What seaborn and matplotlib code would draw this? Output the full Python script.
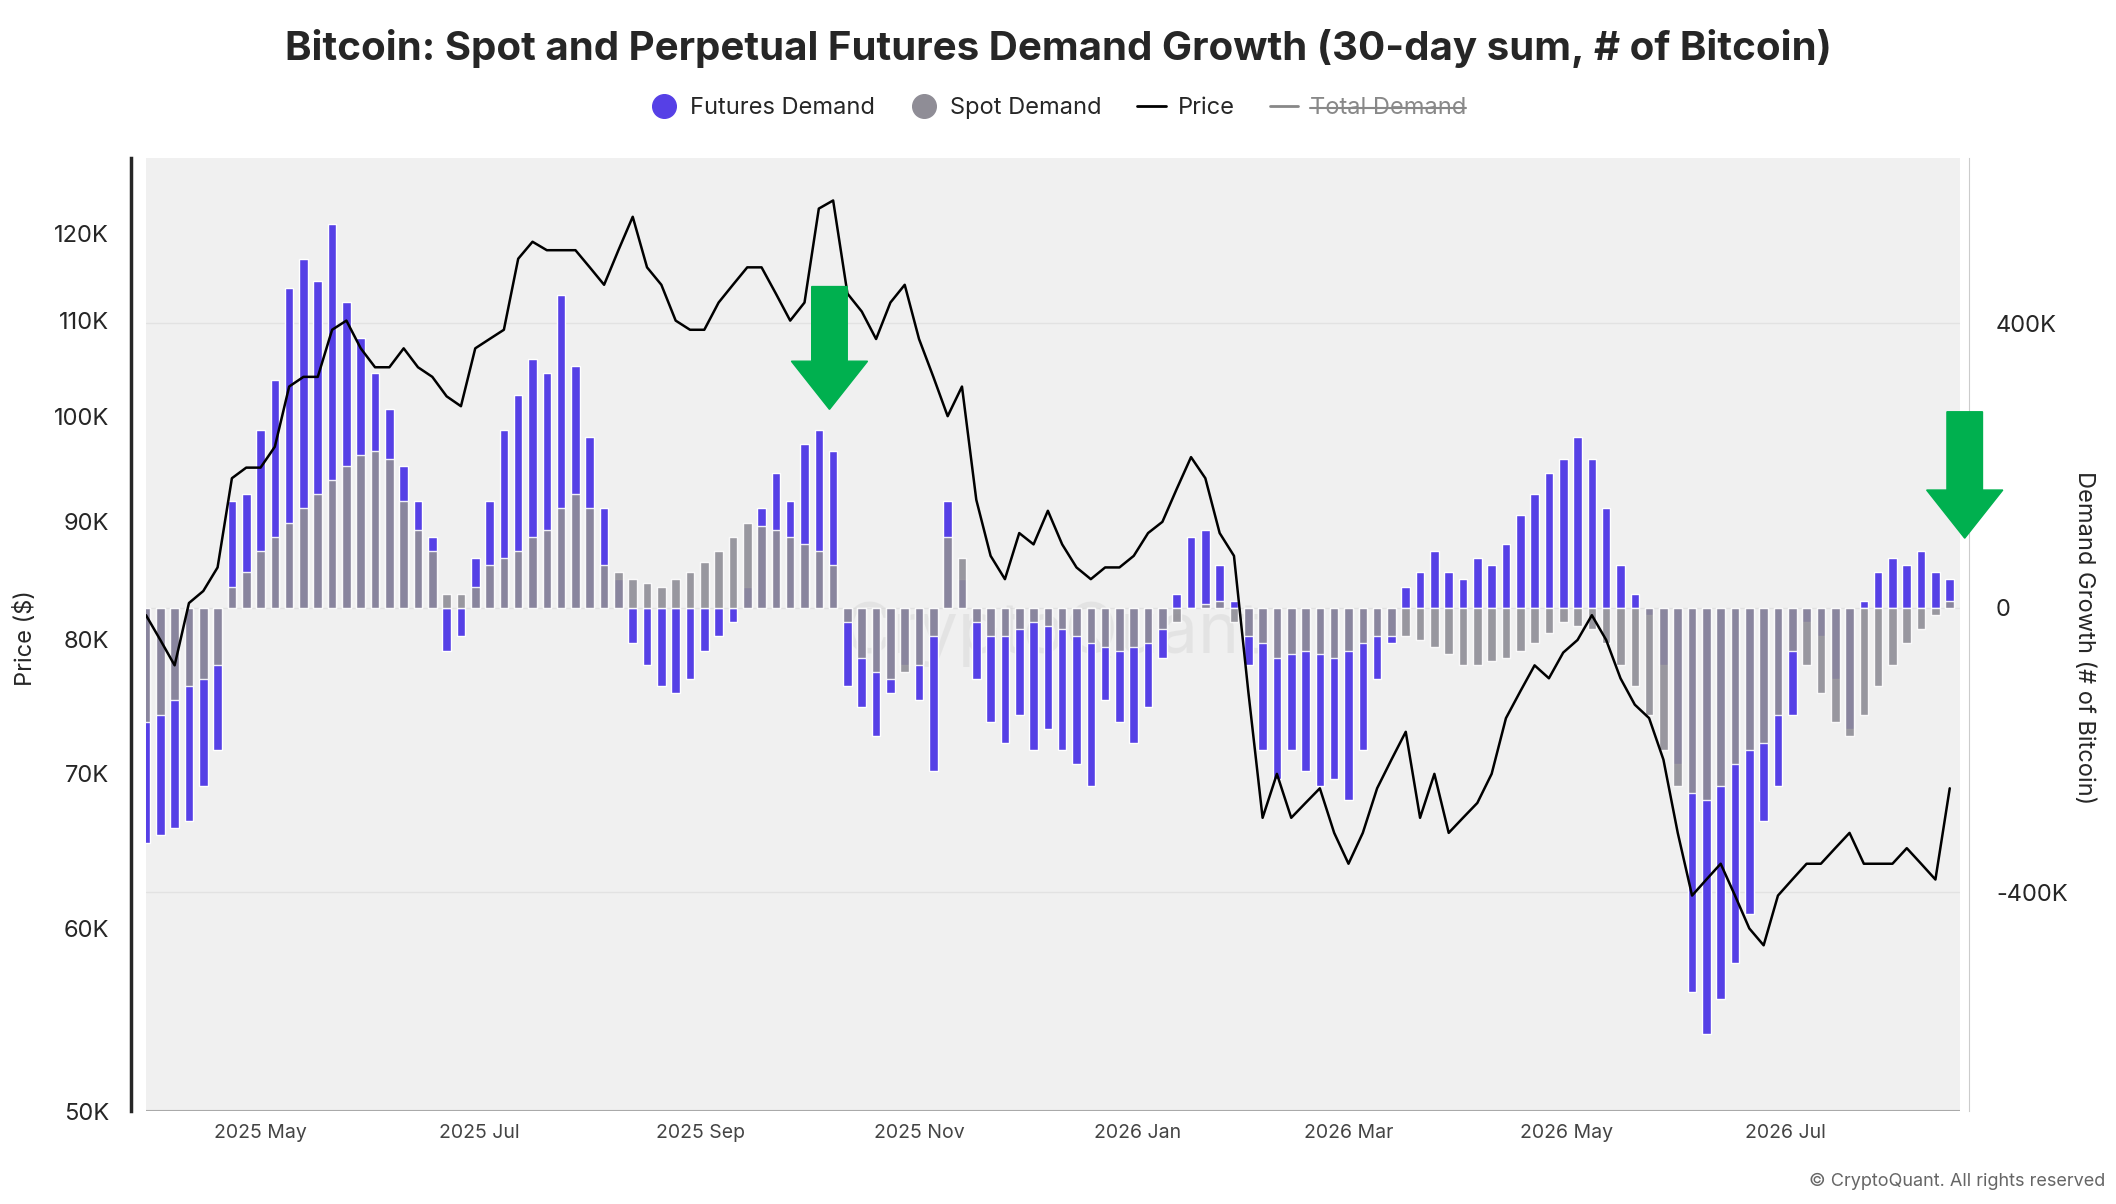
import numpy as np
import pandas as pd
import matplotlib
matplotlib.use("Agg")
import matplotlib.pyplot as plt
import matplotlib.dates as mdates
import matplotlib.ticker as mticker
from matplotlib.lines import Line2D
from matplotlib.patches import FancyArrow
import seaborn as sns

start_date = "2025-03-30"
step_days = 4
futures_k = [-330,-320,-310,-300,-250,-200,150,160,250,320,450,490,460,540,430,380,330,280,200,150,
             100,-60,-40,70,150,250,300,350,330,440,340,240,140,40,-50,-80,-110,-120,-100,-60,
             -40,-20,30,140,190,150,230,250,220,-110,-140,-180,-120,-80,-130,-230,150,40,-100,-160,
             -190,-150,-200,-170,-200,-220,-250,-130,-160,-190,-140,-70,20,100,110,60,10,-80,-200,-240,
             -200,-230,-250,-240,-270,-200,-100,-50,30,50,80,50,40,70,60,90,130,160,190,210,
             240,210,140,60,20,-10,-80,-220,-540,-600,-550,-500,-430,-300,-250,-150,-20,-40,-100,-170,
             10,50,70,60,80,50,40]
spot_k = [-160,-150,-130,-110,-100,-80,30,50,80,100,120,140,160,180,200,215,220,210,150,110,
          80,20,20,30,60,70,80,100,110,140,160,140,60,50,40,35,30,40,50,65,
          80,100,120,115,110,100,90,80,60,-20,-70,-90,-100,-90,-80,-40,100,70,-20,-40,
          -40,-30,-20,-25,-30,-40,-50,-55,-60,-55,-50,-30,-20,0,5,10,-20,-40,-50,-70,
          -65,-60,-65,-70,-60,-50,-40,-40,-40,-45,-55,-65,-80,-80,-75,-70,-60,-50,-35,-20,
          -25,-30,-50,-80,-110,-150,-200,-250,-260,-270,-250,-220,-200,-190,-150,-60,-80,-120,-160,-180,
          -150,-110,-80,-50,-30,-10,10]
price_k = [82,80,78,83,84,86,94,95,95,97,103,104,104,109,110,107,105,105,107,105,
           104,102,101,107,108,109,117,119,118,118,118,116,114,118,122,116,114,110,109,109,
           112,114,116,116,113,110,112,123,124,113,111,108,112,114,108,104,100,103,92,87,
           85,89,88,91,88,86,85,86,86,87,89,90,93,96,94,89,87,76,67,70,
           67,68,69,66,64,66,69,71,73,67,70,66,67,68,70,74,76,78,77,79,
           80,82,80,77,75,74,71,66,62,63,64,62,60,59,62,63,64,64,65,66,
           64,64,64,65,64,63,69]

dates = pd.date_range(start_date, periods=len(price_k), freq=f"{step_days}D")
df = pd.DataFrame({"date": dates, "futures": np.array(futures_k) * 1000,
                   "spot": np.array(spot_k) * 1000, "price": np.array(price_k) * 1000})

sns.set_style("white")
plt.rcParams["font.family"] = ["Inter", "DejaVu Sans"]

fig = plt.figure(figsize=(21.16, 12.04), dpi=100)
ax = fig.add_axes([0.069, 0.077, 0.8575, 0.792])
ax.set_facecolor("#f0f0f0")
for s in ax.spines.values():
    s.set_visible(False)

ax.bar(df["date"], df["futures"], width=2.4, color="#5640e6", zorder=2)
ax.bar(df["date"], df["spot"], width=2.4, color="#8f8d96", alpha=0.9, zorder=3)
ax.set_ylim(-708000, 633000)
ax.grid(axis="y", color="#e2e2e2", lw=1, zorder=0)

axp = ax.twinx()
sns.lineplot(data=df, x="date", y="price", ax=axp, color="black", lw=1.8, zorder=5)
axp.set_yscale("log")
axp.set_ylim(50000, 129400)
pt = [50000, 60000, 70000, 80000, 90000, 100000, 110000, 120000]
axp.set_yticks(pt)
axp.yaxis.set_minor_locator(mticker.NullLocator())
axp.set_yticklabels([f"{int(v/1000)}K" for v in pt])
axp.tick_params(axis="y", which="both", left=False, right=False, labelleft=True, labelright=False,
                labelsize=17, pad=12)
axp.set_ylabel("")
fig.text(0.012, 0.47, "Price ($)", rotation=90, fontsize=17, ha="center", va="center")
for s in axp.spines.values():
    s.set_visible(False)
axp.spines["left"].set_visible(True)
axp.spines["left"].set_position(("outward", 11))
axp.spines["left"].set_linewidth(2.5)
axp.spines["right"].set_visible(True)
axp.spines["right"].set_color("#cccccc")
axp.spines["right"].set_position(("outward", 6))
axp.set_xlabel("")

ax.set_yticks([-400000, 0, 400000])
ax.yaxis.set_major_formatter(mticker.FuncFormatter(lambda v, p: f"{int(v/1000)}K" if v else "0"))
ax.tick_params(axis="y", left=False, right=False, labelleft=False, labelright=True,
               labelsize=17, pad=22)
fig.text(0.985, 0.47, "Demand Growth (# of Bitcoin)", rotation=270, fontsize=17,
         ha="center", va="center")

ax.set_xlim(pd.Timestamp("2025-03-30"), pd.Timestamp("2026-08-19"))
ax.xaxis.set_major_locator(mdates.MonthLocator(bymonth=[1, 3, 5, 7, 9, 11]))
ax.xaxis.set_major_formatter(mdates.DateFormatter("%Y %b"))
ax.tick_params(axis="x", labelsize=14, colors="#444444", length=6, color="#999999")
ax.axhline(-708000, color="#aaaaaa", lw=1.5, zorder=6)

fig.text(0.5, 0.96, "Bitcoin: Spot and Perpetual Futures Demand Growth (30-day sum, # of Bitcoin)",
         ha="center", va="center", fontsize=29, fontweight="bold")

handles = [Line2D([], [], marker="o", ls="", color="#5640e6", markersize=17),
           Line2D([], [], marker="o", ls="", color="#8f8d96", markersize=17),
           Line2D([], [], color="black", lw=2),
           Line2D([], [], color="#888888", lw=2)]
leg = fig.legend(handles, ["Futures Demand", "Spot Demand", "Price", "Total Demand"],
                 loc="center", bbox_to_anchor=(0.5, 0.91), ncol=4, frameon=False,
                 fontsize=17, handlelength=1.2, columnspacing=1.5, handletextpad=0.5)
txt = leg.get_texts()[3]
txt.set_color("#888888")
fig.canvas.draw()
bb = txt.get_window_extent().transformed(fig.transFigure.inverted())
fig.add_artist(Line2D([bb.x0, bb.x1], [(bb.y0 + bb.y1) / 2] * 2, color="#888888", lw=1.5,
                      transform=fig.transFigure))

green = "#00b04f"
fig.add_artist(FancyArrow(0.392, 0.762, 0, -0.102, width=0.0168, head_width=0.036,
                          head_length=0.04, length_includes_head=True, color=green,
                          transform=fig.transFigure))
fig.add_artist(FancyArrow(0.9285, 0.658, 0, -0.105, width=0.0168, head_width=0.036,
                          head_length=0.04, length_includes_head=True, color=green,
                          transform=fig.transFigure))

ax.text(0.5, 0.5, "CryptoQuant", transform=ax.transAxes, ha="center", va="center",
        fontsize=50, color="#d8d8d8", alpha=0.5, zorder=1)
fig.text(0.995, 0.012, "© CryptoQuant. All rights reserved", ha="right", va="bottom",
         fontsize=13, color="#666666")

fig.savefig("out.png", dpi=100)
